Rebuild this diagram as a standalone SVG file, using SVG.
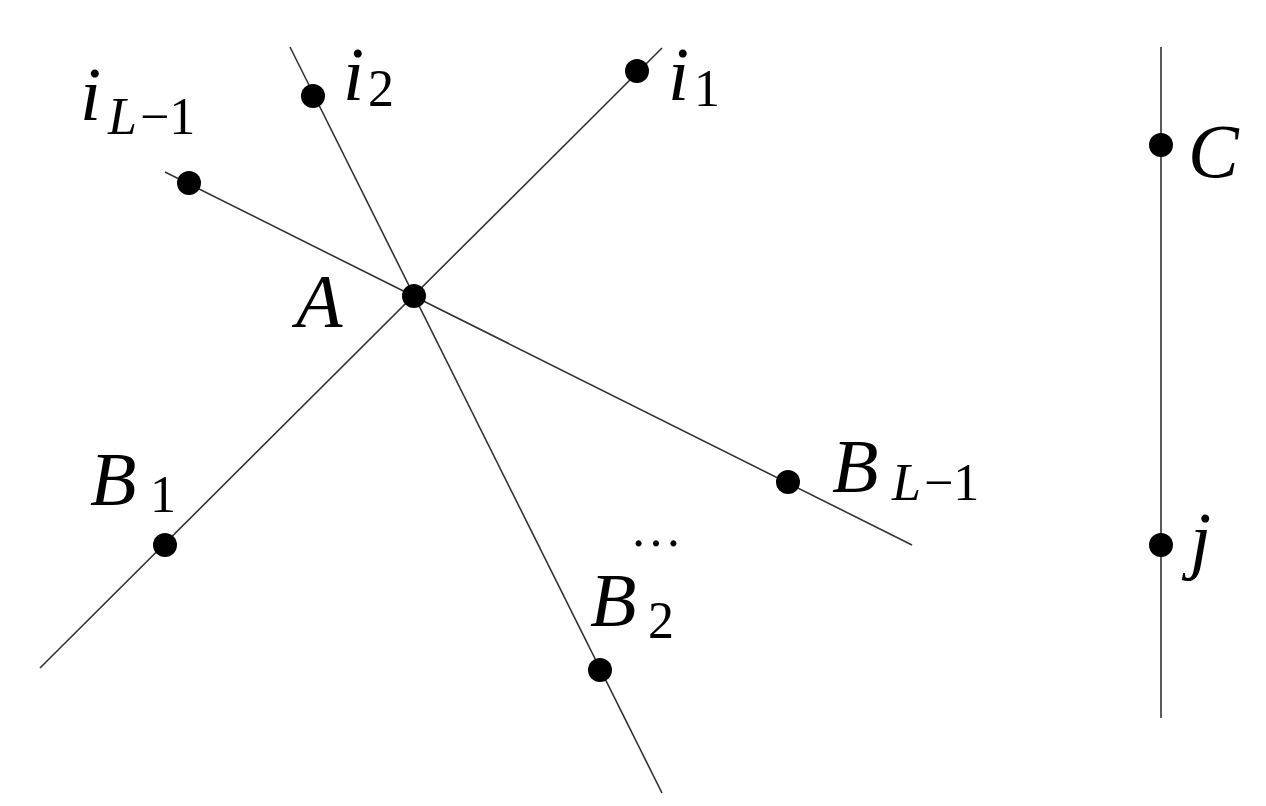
<svg xmlns="http://www.w3.org/2000/svg" width="1266" height="806" viewBox="0 0 1266 806">
<style>
.l{stroke:#333;stroke-width:1.6;fill:none}
.d{fill:#000}
.t{font-family:"Liberation Serif",serif;font-style:italic;font-size:76px}
.s{font-family:"Liberation Serif",serif;font-size:52px}
.si{font-family:"Liberation Serif",serif;font-style:italic;font-size:52px}
</style>
<rect width="1266" height="806" fill="#fff"/>
<g id="connectors">
<line class="l" x1="40" y1="668" x2="662" y2="48"/>
<line class="l" x1="290" y1="47" x2="662" y2="793"/>
<line class="l" x1="165" y1="172" x2="912" y2="545"/>
<line class="l" x1="1161" y1="47" x2="1161" y2="718"/>
</g>
<g id="A"><circle class="d" cx="414" cy="296" r="12"/><text class="t" x="296" y="327">A</text></g>
<g id="i1"><circle class="d" cx="637" cy="71" r="12"/><text class="t" x="668" y="100">i</text><text class="s" x="694" y="106">1</text></g>
<g id="i2"><circle class="d" cx="313" cy="96" r="12"/><text class="t" x="343" y="100">i</text><text class="s" x="368" y="106">2</text></g>
<g id="iL1"><circle class="d" cx="189" cy="183" r="12"/><text class="t" x="80" y="120">i</text><text class="si" x="108" y="134">L</text><text class="s" x="140" y="134">−1</text></g>
<g id="B1"><circle class="d" cx="165" cy="545" r="12"/><text class="t" x="90" y="505">B</text><text class="s" x="150" y="512">1</text></g>
<g id="B2"><circle class="d" cx="600" cy="670" r="12"/><text class="t" x="590" y="626">B</text><text class="s" x="648" y="638">2</text><text class="s" x="630" y="546">…</text></g>
<g id="BL1"><circle class="d" cx="788" cy="482" r="12"/><text class="t" x="832" y="492">B</text><text class="si" x="892" y="500">L</text><text class="s" x="924" y="500">−1</text></g>
<g id="C"><circle class="d" cx="1161" cy="145" r="12"/><text class="t" x="1188" y="177">C</text></g>
<g id="j"><circle class="d" cx="1161" cy="545" r="12"/><text class="t" x="1190" y="565">j</text></g>
</svg>
